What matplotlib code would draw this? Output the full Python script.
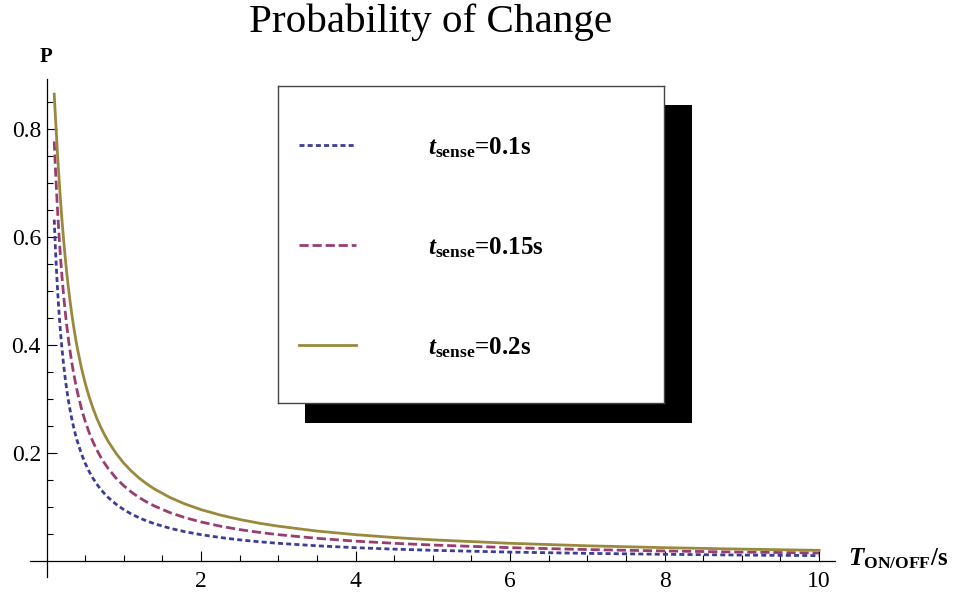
import matplotlib
matplotlib.use("Agg")
import matplotlib.pyplot as plt
from matplotlib.patches import Rectangle
from matplotlib.ticker import FixedLocator, FormatStrFormatter

# Switching period T_ON/OFF (s)
T = [0.1, 0.105, 0.11, 0.115, 0.12, 0.125, 0.13, 0.14, 0.15, 0.16, 0.17,
     0.18, 0.19, 0.2, 0.22, 0.24, 0.26, 0.28, 0.3, 0.325, 0.35, 0.375, 0.4,
     0.45, 0.5, 0.55, 0.6, 0.65, 0.7, 0.75, 0.8, 0.9, 1.0, 1.1, 1.2, 1.3,
     1.4, 1.6, 1.8, 2.0, 2.25, 2.5, 2.75, 3.0, 3.5, 4.0, 4.5, 5.0, 6.0, 7.0,
     8.0, 9.0, 10.0]

# Probability of change for each sensing time
p_01 = [0.6321, 0.6142, 0.5971, 0.5809, 0.5654, 0.5507, 0.5366, 0.5105,
        0.4866, 0.4647, 0.4447, 0.4262, 0.4092, 0.3935, 0.3652, 0.3408,
        0.3193, 0.3003, 0.2835, 0.2648, 0.2485, 0.2341, 0.2212, 0.1993,
        0.1813, 0.1663, 0.1535, 0.1426, 0.1331, 0.1248, 0.1175, 0.1052,
        0.0952, 0.0869, 0.0800, 0.0740, 0.0689, 0.0606, 0.0540, 0.0488,
        0.0435, 0.0392, 0.0357, 0.0328, 0.0282, 0.0247, 0.0220, 0.0198,
        0.0165, 0.0142, 0.0124, 0.0110, 0.0100]
p_015 = [0.7769, 0.7603, 0.7443, 0.7287, 0.7135, 0.6988, 0.6846, 0.6575,
         0.6321, 0.6084, 0.5862, 0.5654, 0.5459, 0.5276, 0.4943, 0.4647,
         0.4384, 0.4147, 0.3935, 0.3697, 0.3486, 0.3297, 0.3127, 0.2835,
         0.2592, 0.2387, 0.2212, 0.2061, 0.1929, 0.1813, 0.1710, 0.1535,
         0.1393, 0.1275, 0.1175, 0.1090, 0.1016, 0.0895, 0.0800, 0.0723,
         0.0645, 0.0582, 0.0531, 0.0488, 0.0420, 0.0368, 0.0328, 0.0296,
         0.0247, 0.0212, 0.0186, 0.0165, 0.0149]
p_02 = [0.8647, 0.8511, 0.8377, 0.8243, 0.8111, 0.7981, 0.7853, 0.7603,
        0.7364, 0.7135, 0.6916, 0.6708, 0.6510, 0.6321, 0.5971, 0.5654,
        0.5366, 0.5105, 0.4866, 0.4596, 0.4353, 0.4134, 0.3935, 0.3588,
        0.3297, 0.3049, 0.2835, 0.2648, 0.2485, 0.2341, 0.2212, 0.1993,
        0.1813, 0.1663, 0.1535, 0.1426, 0.1331, 0.1175, 0.1052, 0.0952,
        0.0851, 0.0769, 0.0701, 0.0645, 0.0555, 0.0488, 0.0435, 0.0392,
        0.0328, 0.0282, 0.0247, 0.0220, 0.0198]

# '=' gets relation spacing in mathtext; the negative kerns cancel it
series_labels = [
    r"$\mathbfit{t}_{\mathbf{sense}}\hspace{-0.2}\mathbf{=}\hspace{-0.2}\mathbf{0.1s}$",
    r"$\mathbfit{t}_{\mathbf{sense}}\hspace{-0.2}\mathbf{=}\hspace{-0.2}\mathbf{0.15s}$",
    r"$\mathbfit{t}_{\mathbf{sense}}\hspace{-0.2}\mathbf{=}\hspace{-0.2}\mathbf{0.2s}$",
]
x_ticks = [2, 4, 6, 8, 10]
y_ticks = [0.2, 0.4, 0.6, 0.8]

plt.rcParams["font.family"] = ["Liberation Serif", "DejaVu Serif"]
plt.rcParams["mathtext.fontset"] = "custom"
plt.rcParams["mathtext.rm"] = "Liberation Serif"
plt.rcParams["mathtext.it"] = "Liberation Serif:italic"
plt.rcParams["mathtext.bf"] = "Liberation Serif:bold"
plt.rcParams["mathtext.bfit"] = "Liberation Serif:italic:bold"
plt.rcParams["lines.scale_dashes"] = False

W, H = 958, 595
fig = plt.figure(figsize=(W / 100, H / 100), dpi=100)


def fx(px):
    return px / W


def fy(py):
    return 1 - py / H


colors = ["#3d3d99", "#993d71", "#99893d"]
styles = [(0, (3.6, 2.3)), (0, (6.6, 2.8)), "-"]
lw = 2.0

# main axes (axes cross at the origin)
ax = fig.add_axes([fx(30), fy(577), fx(835) - fx(30), fy(79) - fy(577)])
ax.set_zorder(0)
ax.set_xlim(-0.2136, 10.206)
ax.set_ylim(-0.0296, 0.8926)
for side in ("top", "right"):
    ax.spines[side].set_visible(False)
ax.spines["left"].set_position(("data", 0))
ax.spines["bottom"].set_position(("data", 0))
for side in ("left", "bottom"):
    ax.spines[side].set_linewidth(0.9)

for ys, c, ls in zip([p_01, p_015, p_02], colors, styles):
    ax.plot(T, ys, color=c, linestyle=ls, linewidth=lw, dash_capstyle="butt",
            solid_joinstyle="round", clip_on=False)

ax.xaxis.set_major_locator(FixedLocator(x_ticks))
ax.xaxis.set_minor_locator(FixedLocator([0.5 * k for k in range(1, 21)]))
ax.yaxis.set_major_locator(FixedLocator(y_ticks))
ax.yaxis.set_minor_locator(FixedLocator([0.05 * k for k in range(1, 18)]))
ax.xaxis.set_major_formatter(FormatStrFormatter("%d"))
ax.yaxis.set_major_formatter(FormatStrFormatter("%.1f"))
ax.tick_params(which="both", direction="in", width=0.8)
ax.tick_params(which="major", length=7, labelsize=17)
ax.tick_params(which="minor", length=4.5)
ax.tick_params(axis="x", which="major", pad=7)
ax.tick_params(axis="y", which="major", pad=4)

# axis labels and title
fig.text(fx(46), fy(57), "P", fontsize=15, fontweight="bold",
         ha="center", va="center")
fig.text(fx(848), fy(559), r"$\mathbfit{T}_{\mathbf{ON/OFF}}\mathbf{/s}$",
         fontsize=18, ha="left", va="center")
fig.text(fx(431), fy(32), "Probability of Change", fontsize=29.6,
         ha="center", va="baseline")

# legend box with a solid drop shadow
shadow = Rectangle((fx(305), fy(423)), fx(692) - fx(305), fy(105) - fy(423),
                   transform=fig.transFigure, facecolor="black",
                   edgecolor="none", zorder=1)
fig.add_artist(shadow)
lax = fig.add_axes([fx(278), fy(403), fx(664) - fx(278), fy(86) - fy(403)])
lax.set_zorder(2)
lax.set_xlim(278, 664)
lax.set_ylim(403, 86)
lax.set_xticks([])
lax.set_yticks([])
for s in lax.spines.values():
    s.set_linewidth(1.0)
    s.set_edgecolor("#444444")
for yrow, c, ls, lab in zip([145, 245, 345], colors, styles, series_labels):
    lax.plot([299, 356], [yrow, yrow], color=c, linestyle=ls, linewidth=lw,
             dash_capstyle="butt")
    lax.text(428, yrow + 3, lab, fontsize=18, ha="left", va="center")

fig.savefig("out.png", dpi=100)
